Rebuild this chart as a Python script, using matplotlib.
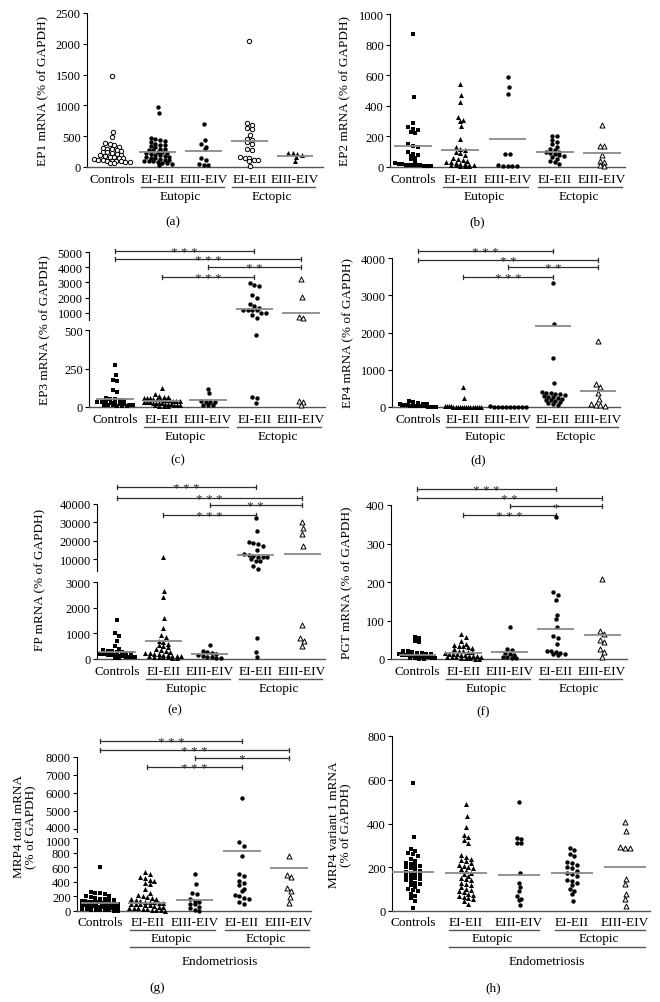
import numpy as np
import matplotlib
matplotlib.use("Agg")
import matplotlib.pyplot as plt
from matplotlib.lines import Line2D
from matplotlib.transforms import ScaledTranslation

plt.rcParams['font.family'] = ['Liberation Serif', 'DejaVu Serif']

W, H = 660, 1003

group_labels = ["Controls", "EI-EII", "EIII-EIV", "EI-EII", "EIII-EIV"]

# (a) EP1
ep1_controls = [1470, 575, 490, 385, 370, 350, 330, 310, 300, 290, 270, 255, 250, 240, 220, 210, 200,
                190, 180, 170, 160, 150, 145, 130, 120, 110, 100, 100, 95, 90, 85, 80, 70, 60]
ep1_eu_12 = [980, 880, 470, 460, 440, 420, 400, 380, 360, 350, 340, 330, 300, 290, 280, 270, 250, 240,
             230, 220, 210, 200, 190, 180, 170, 160, 150, 140, 130, 120, 110, 100, 100, 90, 80, 70, 60, 50, 40]
ep1_eu_34 = [690, 440, 370, 330, 300, 150, 110, 50, 40, 40]
ep1_ec_12 = [2040, 710, 680, 630, 610, 520, 460, 440, 400, 380, 300, 280, 160, 150, 140, 120, 110, 100, 20]
ep1_ec_34 = [230, 220, 210, 200, 160, 90]
ep1_means = [None, 250, 255, 420, 180]

# (b) EP2
ep2_controls = [870, 455, 290, 260, 250, 240, 230, 220, 150, 140, 130, 100, 85, 80, 75, 60, 50, 30, 25,
                20, 20, 15, 15, 10, 10, 10, 5, 5, 5]
ep2_eu_12 = [545, 470, 425, 330, 310, 300, 270, 185, 130, 120, 110, 100, 90, 80, 60, 50, 45, 40, 35, 30,
             25, 20, 20, 15, 15, 10, 10, 5, 5, 5]
ep2_eu_34 = [590, 525, 480, 85, 85, 10, 5, 5, 5, 5]
ep2_ec_12 = [205, 200, 175, 165, 150, 130, 120, 110, 100, 95, 90, 85, 80, 75, 65, 55, 40, 30, 20]
ep2_ec_34 = [275, 140, 140, 80, 40, 30, 10, 5]
ep2_means = [138, 110, 180, 95, 90]

# (c) EP3
ep3_controls = [270, 210, 175, 170, 110, 100, 60, 55, 50, 45, 40, 35, 30, 30, 25, 25, 20, 20, 15, 15,
                10, 10, 10, 5, 5, 5]
ep3_eu_12 = [125, 85, 72, 66, 64, 60, 58, 57, 55, 50, 49, 47, 45, 44, 40, 39, 37, 35, 33, 30, 29, 27,
             25, 23, 21, 20, 18, 15, 13, 12, 10, 8, 6, 4]
ep3_eu_34 = [120, 90, 40, 35, 30, 30, 15, 10, 10]
ep3_ec_12 = [2950, 2850, 2800, 2150, 2000, 1570, 1480, 1330, 1220, 1200, 1180, 1170, 1000, 980, 870,
             670, 465, 65, 60, 25]
ep3_ec_34 = [3220, 2030, 720, 640, 40, 30, 15]
ep3_means = [55, 40, 45, 1270, 980]

# (d) EP4
ep4_controls = [170, 130, 110, 90, 80, 70, 60, 55, 50, 45, 40, 35, 30, 30, 25, 20, 20, 15, 15, 10, 10,
                5, 5, 5]
ep4_eu_12 = [530, 250, 30, 25, 20, 15, 12, 10, 10, 8, 8, 6, 5, 5, 4, 3, 3, 2, 2, 1]
ep4_eu_34 = [15, 10, 8, 6, 5, 4, 3, 2, 2, 1]
ep4_ec_12 = [3320, 2220, 1310, 650, 400, 380, 370, 360, 350, 330, 300, 280, 260, 240, 220, 200, 180,
             150, 130, 100, 80, 60]
ep4_ec_34 = [1760, 630, 540, 380, 220, 70, 60, 50, 40]
ep4_means = [None, None, None, 2170, 420]

# (e) FP
fp_controls = [1520, 1010, 900, 720, 520, 380, 350, 320, 300, 280, 260, 240, 220, 200, 190, 180, 160,
               150, 140, 120, 110, 100, 90, 80, 70, 60, 50, 40]
fp_eu_12 = [11300, 2650, 2400, 1580, 1190, 930, 850, 700, 650, 600, 550, 500, 450, 400, 350, 300, 280,
            250, 220, 200, 180, 160, 150, 130, 120, 110, 100, 90, 80, 70, 60, 50, 40]
fp_eu_34 = [550, 320, 260, 220, 190, 170, 120, 80, 60, 50, 40]
fp_ec_12 = [32400, 25100, 19100, 19000, 18200, 17300, 15100, 12700, 12200, 11800, 10900, 10900, 10900,
            10000, 9100, 9000, 6400, 4500, 815, 280, 90]
fp_ec_34 = [30000, 26900, 23600, 16900, 1330, 800, 720, 520]
fp_means = [280, 710, 180, 12000, 12700]

# (f) PGT
pgt_controls = [58, 55, 47, 45, 22, 20, 18, 16, 15, 14, 13, 12, 11, 10, 10, 9, 8, 7, 6, 5, 5, 4, 3, 3,
                2, 2, 1, 1]
pgt_eu_12 = [66, 57, 48, 40, 37, 35, 33, 30, 28, 25, 22, 20, 18, 17, 15, 14, 13, 12, 11, 10, 9, 8, 7,
             6, 5, 5, 4, 3, 2, 2, 1, 1]
pgt_eu_34 = [82, 25, 23, 15, 12, 10, 5, 4, 3, 2]
pgt_ec_12 = [368, 173, 165, 153, 115, 104, 82, 60, 54, 40, 22, 20, 17, 15, 14, 12, 10]
pgt_ec_34 = [207, 74, 66, 49, 43, 26, 17, 5]
pgt_means = [10, 16, 17, 78, 62]

# (g) MRP4 total
mrp4_controls = [600, 260, 250, 240, 230, 210, 200, 190, 180, 170, 160, 150, 150, 140, 140, 130, 130,
                 120, 120, 110, 110, 100, 100, 95, 90, 85, 80, 75, 70, 65, 60, 55, 50, 45, 40, 35, 30,
                 25, 20, 20, 15, 10, 10, 5, 5]
mrp4_eu_12 = [530, 510, 460, 450, 420, 410, 380, 370, 300, 250, 220, 200, 190, 180, 170, 160, 150, 140,
              130, 125, 120, 115, 110, 100, 95, 90, 85, 80, 70, 60, 50, 45, 40, 35, 30, 25, 20, 15, 10, 5]
mrp4_eu_34 = [505, 375, 245, 235, 160, 135, 120, 100, 90, 60, 40, 10, 5]
mrp4_ec_12 = [5750, 945, 895, 750, 505, 480, 415, 380, 350, 300, 280, 220, 205, 180, 170, 120, 95]
mrp4_ec_34 = [750, 490, 470, 320, 280, 185, 115]
mrp4_means = [115, 115, 150, 816, 592]

# (h) MRP4 variant 1
v1_controls = [587, 338, 285, 275, 265, 260, 250, 240, 230, 220, 215, 210, 205, 200, 195, 190, 185, 180,
               175, 170, 165, 160, 155, 150, 145, 140, 135, 130, 125, 120, 110, 100, 95, 90, 80, 70,
               60, 45, 15]
v1_eu_12 = [489, 434, 385, 346, 340, 323, 312, 255, 245, 240, 235, 230, 220, 210, 205, 200, 195, 190,
            185, 175, 170, 160, 150, 145, 140, 130, 125, 120, 110, 100, 95, 90, 85, 80, 75, 70, 65,
            60, 55, 45, 30]
v1_eu_34 = [500, 335, 330, 312, 310, 174, 130, 110, 90, 70, 55, 50, 28]
v1_ec_12 = [290, 280, 262, 252, 225, 220, 210, 200, 195, 185, 175, 170, 160, 140, 135, 130, 120, 100,
            92, 80, 47]
v1_ec_34 = [405, 368, 292, 290, 288, 146, 123, 77, 57, 23]
v1_means = [177, 172, 165, 172, 200]

MK_A = ['o_open', 'o', 'o', 'o_open', '^']
MK = ['s', '^', 'o', 'o', '^_open']
BAR = '#2e2e2e'

# layout: segments are (vmin, vmax, px_bottom, px_top)
panels = [
    dict(letter="(a)", data=[ep1_controls, ep1_eu_12, ep1_eu_34, ep1_ec_12, ep1_ec_34], means=ep1_means,
         ylabel="EP1 mRNA (% of GAPDH)", marks=MK_A,
         lower=(0, 2500, 168, 14), lower_ticks=[0, 500, 1000, 1500, 2000, 2500], upper=None, upper_ticks=None,
         spine=87, right=323, x0=112, step=45.75, ylab=(43, 91), lab=(173, 222), bars=[], endo=False),
    dict(letter="(b)", data=[ep2_controls, ep2_eu_12, ep2_eu_34, ep2_ec_12, ep2_ec_34], means=ep2_means,
         ylabel="EP2 mRNA (% of GAPDH)", marks=MK,
         lower=(0, 1000, 168, 15), lower_ticks=[0, 200, 400, 600, 800, 1000], upper=None, upper_ticks=None,
         spine=390, right=625, x0=413, step=47.25, ylab=(345, 91), lab=(477, 222), bars=[], endo=False),
    dict(letter="(c)", data=[ep3_controls, ep3_eu_12, ep3_eu_34, ep3_ec_12, ep3_ec_34], means=ep3_means,
         ylabel="EP3 mRNA (% of GAPDH)", marks=MK,
         lower=(0, 500, 408, 331), lower_ticks=[0, 250, 500],
         upper=(540, 5000, 321, 253), upper_ticks=[1000, 2000, 3000, 4000, 5000],
         spine=89, right=325, x0=115, step=46.5, ylab=(45, 330), lab=(178, 460),
         bars=[(0, 3, 5060, "* * *"), (0, 4, 4540, "* * *"), (2, 4, 4020, "* *"), (1, 3, 3360, "* * *")],
         endo=False),
    dict(letter="(d)", data=[ep4_controls, ep4_eu_12, ep4_eu_34, ep4_ec_12, ep4_ec_34], means=ep4_means,
         ylabel="EP4 mRNA (% of GAPDH)", marks=MK,
         lower=(0, 4000, 408, 259), lower_ticks=[0, 1000, 2000, 3000, 4000], upper=None, upper_ticks=None,
         spine=392, right=620, x0=418, step=45.0, ylab=(348, 333), lab=(478, 460),
         bars=[(0, 3, 4190, "* * *"), (0, 4, 3950, "* *"), (2, 4, 3760, "* *"), (1, 3, 3490, "* * *")],
         endo=False),
    dict(letter="(e)", data=[fp_controls, fp_eu_12, fp_eu_34, fp_ec_12, fp_ec_34], means=fp_means,
         ylabel="FP mRNA (% of GAPDH)", marks=MK,
         lower=(0, 3000, 660, 583), lower_ticks=[0, 1000, 2000, 3000],
         upper=(3500, 40000, 572, 505), upper_ticks=[10000, 20000, 30000, 40000],
         spine=97, right=325, x0=117, step=46.25, ylab=(40, 580), lab=(175, 710),
         bars=[(0, 3, 49100, "* * *"), (0, 4, 43300, "* * *"), (2, 4, 39500, "* *"), (1, 3, 34000, "* * *")],
         endo=False),
    dict(letter="(f)", data=[pgt_controls, pgt_eu_12, pgt_eu_34, pgt_ec_12, pgt_ec_34], means=pgt_means,
         ylabel="PGT mRNA (% of GAPDH)", marks=MK,
         lower=(0, 400, 660, 506), lower_ticks=[0, 100, 200, 300, 400], upper=None, upper_ticks=None,
         spine=391, right=627, x0=417, step=46.25, ylab=(347, 583), lab=(483, 712),
         bars=[(0, 3, 441, "* * *"), (0, 4, 418, "* *"), (2, 4, 397, "*"), (1, 3, 374, "* * *")],
         endo=False),
    dict(letter="(g)", data=[mrp4_controls, mrp4_eu_12, mrp4_eu_34, mrp4_ec_12, mrp4_ec_34], means=mrp4_means,
         ylabel="MRP4 total mRNA\n(% of GAPDH)", marks=MK,
         lower=(0, 1000, 912, 839), lower_ticks=[0, 200, 400, 600, 800, 1000],
         upper=(3850, 8000, 832.7, 758), upper_ticks=[4000, 5000, 6000, 7000, 8000],
         spine=77, right=311, x0=100, step=47.25, ylab=(25, 827), lab=(157, 988),
         bars=[(0, 3, 8890, "* * *"), (0, 4, 8390, "* * *"), (2, 4, 7950, "*"), (1, 3, 7440, "* * *")],
         endo=True),
    dict(letter="(h)", data=[v1_controls, v1_eu_12, v1_eu_34, v1_ec_12, v1_ec_34], means=v1_means,
         ylabel="MRP4 variant 1 mRNA\n(% of GAPDH)", marks=MK,
         lower=(0, 800, 912, 737), lower_ticks=[0, 200, 400, 600, 800], upper=None, upper_ticks=None,
         spine=392, right=650, x0=413, step=53.0, ylab=(340, 825), lab=(493, 988), bars=[], endo=True),
]

fig = plt.figure(figsize=(W / 100, H / 100), dpi=100)
renderer = fig.canvas.get_renderer()


def make_axes(x1, x2, ytop, ybot):
    return fig.add_axes([x1 / W, 1 - ybot / H, (x2 - x1) / W, (ybot - ytop) / H])


def ypix(p, v):
    seg = p["upper"] if p["upper"] and v >= p["upper"][0] else p["lower"]
    v0, v1, pb, pt = seg
    return pb - (v - v0) / (v1 - v0) * (pb - pt)


def swarm(ys, d=4.6, maxw=36.0):
    # rows of points with close values, spread sideways (GraphPad style)
    order = np.argsort(ys)
    offs = np.zeros(len(ys))
    rows, cur = [], []
    for i in order:
        if cur and ys[i] - ys[cur[0]] > 0.8 * d:
            rows.append(cur)
            cur = []
        cur.append(i)
    if cur:
        rows.append(cur)
    for r, row in enumerate(rows):
        n = len(row)
        sp = d if (n - 1) * d <= maxw else maxw / (n - 1)
        shift = 0.0 if n > 1 else (0.25 * d if r % 2 else 0.0)
        for k, i in enumerate(row):
            offs[i] = (k - (n - 1) / 2) * sp + shift
    return offs


def style(kind):
    if kind.startswith('o'):
        m, s = 'o', 10
    elif kind.startswith('s'):
        m, s = 's', 9
    else:
        m, s = '^', 13
    if kind.endswith('open'):
        return dict(marker=m, s=s, facecolors='white', edgecolors='black', linewidths=0.7)
    return dict(marker=m, s=s, color='black', linewidths=0)


def fig_text(x, y, s, **kw):
    return fig.text(x / W, 1 - y / H, s, **kw)


def fig_line(x1, x2, y, color='#555555', lw=1.0):
    fig.add_artist(Line2D([x1 / W, x2 / W], [1 - y / H, 1 - y / H], color=color, lw=lw))


def nudge(label, dy_px):
    label.set_transform(label.get_transform() + ScaledTranslation(0, dy_px / 100, fig.dpi_scale_trans))


for p in panels:
    xlim = ((p["spine"] - p["x0"]) / p["step"], (p["right"] - p["x0"]) / p["step"])
    lo = p["lower"]
    ax_lo = make_axes(p["spine"], p["right"], lo[3], lo[2])
    ax_lo.set_ylim(lo[0], lo[1])
    ax_lo.set_yticks(p["lower_ticks"])
    axes = [ax_lo]
    ax_up = None
    if p["upper"]:
        up = p["upper"]
        ax_up = make_axes(p["spine"], p["right"], up[3], up[2])
        ax_up.set_ylim(up[0], up[1])
        ax_up.set_yticks(p["upper_ticks"])
        ax_up.spines['bottom'].set_visible(False)
        axes.append(ax_up)
    for ax in axes:
        ax.set_xlim(xlim)
        ax.set_xticks([])
        ax.patch.set_alpha(0)
        for s in ('top', 'right'):
            ax.spines[s].set_visible(False)
        ax.spines['left'].set_linewidth(0.8)
        ax.tick_params(axis='y', direction='out', length=3, width=0.8, labelsize=9, pad=1.5)
    ax_lo.spines['bottom'].set_color('#555555')
    ax_lo.spines['bottom'].set_linewidth(1.0)
    if p["upper"] and (p["upper"][2] - p["lower"][3]) > -8:
        # tightly packed break: pull the two labels apart a little
        nudge(ax_up.get_yticklabels()[0], 2.5)
        nudge(ax_lo.get_yticklabels()[-1], -2.5)

    for g, vals in enumerate(p["data"]):
        vals = np.array(vals, dtype=float)
        ys = np.array([ypix(p, v) for v in vals])
        xs = g + swarm(ys) / p["step"]
        st = style(p["marks"][g])
        if ax_up is not None:
            hi = vals >= p["upper"][0]
            ax_up.scatter(xs[hi], vals[hi], clip_on=False, zorder=3, **st)
            ax_lo.scatter(xs[~hi], vals[~hi], clip_on=False, zorder=3, **st)
        else:
            ax_lo.scatter(xs, vals, clip_on=False, zorder=3, **st)
        m = p["means"][g]
        if m is not None:
            target = ax_up if (ax_up is not None and m >= p["upper"][0]) else ax_lo
            target.hlines(m, g - 0.4, g + 0.4, color='#8a8a8a', lw=1.3, zorder=4)

    # significance bars
    top_ax = ax_up if ax_up is not None else ax_lo
    seg = p["upper"] if p["upper"] else p["lower"]
    per_px = (seg[1] - seg[0]) / (seg[2] - seg[3])
    for i, j, yv, stars in p["bars"]:
        top_ax.plot([i, j], [yv, yv], color=BAR, lw=0.9, clip_on=False)
        for e in (i, j):
            top_ax.plot([e, e], [yv - 2.2 * per_px, yv + 2.2 * per_px], color=BAR, lw=0.9, clip_on=False)
        top_ax.annotate(stars, ((i + j) / 2, yv), xytext=(0, -2.8), textcoords='offset points',
                        ha='center', va='baseline', fontsize=9.5, color=BAR, annotation_clip=False)

    # group labels and brackets
    base = lo[2]
    if p["endo"]:
        r_lab, r_line, r_name = base + 11, base + 19, base + 27.5
    else:
        r_lab, r_line, r_name = base + 12, base + 20, base + 29
    centers = [p["x0"] + g * p["step"] for g in range(5)]
    texts = [fig_text(c, r_lab, t, ha='center', va='center', fontsize=9.5) for c, t in zip(centers, group_labels)]
    spans = []
    for (a, b), name in [((1, 2), "Eutopic"), ((3, 4), "Ectopic")]:
        ba = texts[a].get_window_extent(renderer)
        bb = texts[b].get_window_extent(renderer)
        x1, x2 = ba.x0, bb.x1 - 4
        fig_line(x1, x2, r_line)
        fig_text((centers[a] + centers[b]) / 2, r_name, name, ha='center', va='center', fontsize=9.5)
        spans.append((x1, x2))
    if p["endo"]:
        fig_line(spans[0][0], spans[1][1], base + 36)
        fig_text((spans[0][0] + spans[1][1]) / 2, base + 50, "Endometriosis", ha='center', va='center',
                 fontsize=9.5)

    fig_text(p["ylab"][0], p["ylab"][1], p["ylabel"], rotation=90, ha='center', va='center',
             fontsize=9.5, multialignment='center', linespacing=1.1)
    fig_text(p["lab"][0], p["lab"][1], p["letter"], ha='center', va='center', fontsize=9.5)

fig.savefig("out.png", dpi=100, facecolor='white')
